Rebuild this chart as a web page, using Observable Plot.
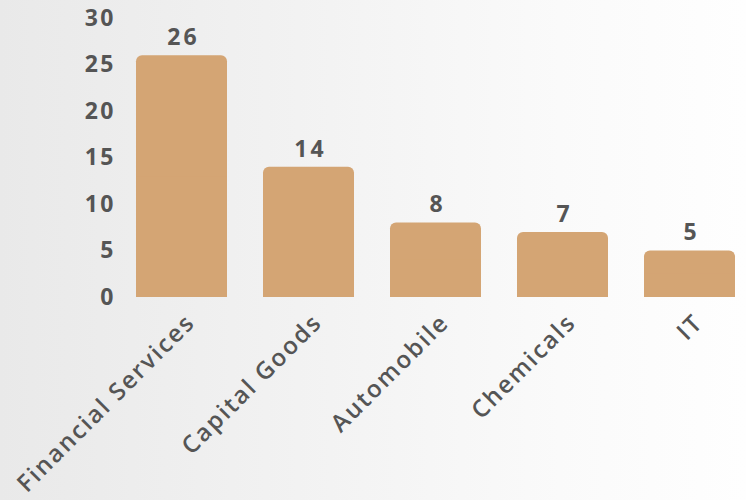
<!DOCTYPE html>
<html>
<head>
<meta charset="utf-8">
<script src="https://cdn.jsdelivr.net/npm/d3@7"></script>
<script src="https://cdn.jsdelivr.net/npm/@observablehq/plot@0.6"></script>
<style>
  html, body { margin: 0; padding: 0; }
  body {
    width: 746px; height: 500px; overflow: hidden;
    background: linear-gradient(to right, #e9e9e9 0%, #f2f2f2 40%, #fafafa 75%, #fefefe 100%);
  }
  svg { background: transparent !important; }
  g[aria-label="y-axis tick label"] text { letter-spacing: 2.5px; }
  g[aria-label="x-axis tick label"] text { letter-spacing: 2px; }
  g[aria-label="text"] text { letter-spacing: 3px; }
</style>
</head>
<body>
<div id="chart"></div>
<script>
const categories = ["Financial Services", "Capital Goods", "Automobile", "Chemicals", "IT"];
const values = [26, 14, 8, 7, 5];
const yTicks = [0, 5, 10, 15, 20, 25, 30];

const data = categories.map((c, i) => ({category: c, value: values[i]}));

const textColor = "#555555";
const barColor = "#D4A574";

const chart = Plot.plot({
  width: 746,
  height: 500,
  marginTop: 18,
  marginBottom: 203,
  marginLeft: 135,
  marginRight: 9,
  style: {background: "transparent", fontFamily: "'Open Sans', sans-serif", color: textColor},
  x: {domain: categories, paddingInner: 0.28, paddingOuter: 0, label: null},
  y: {domain: [0, 30], label: null},
  marks: [
    Plot.barY(data, {x: "category", y: "value", fill: barColor, rx: 6}),
    Plot.barY(data, {x: "category", y1: 0, y2: d => d.value / 2, fill: barColor}),
    Plot.text(data, {x: "category", y: "value", text: d => String(d.value), dy: -18, dx: 1.5,
      fontSize: 23, fontWeight: 700, fill: textColor}),
    Plot.axisY({ticks: yTicks, tickSize: 0, tickPadding: 19.5, fontSize: 23, fontWeight: 700,
      fill: textColor, label: null}),
    Plot.axisX({tickSize: 0, tickRotate: -45, tickPadding: 21, dx: 9, fontSize: 24, fontWeight: 600,
      fill: textColor, label: null})
  ]
});
document.getElementById("chart").appendChild(chart);
</script>
</body>
</html>
